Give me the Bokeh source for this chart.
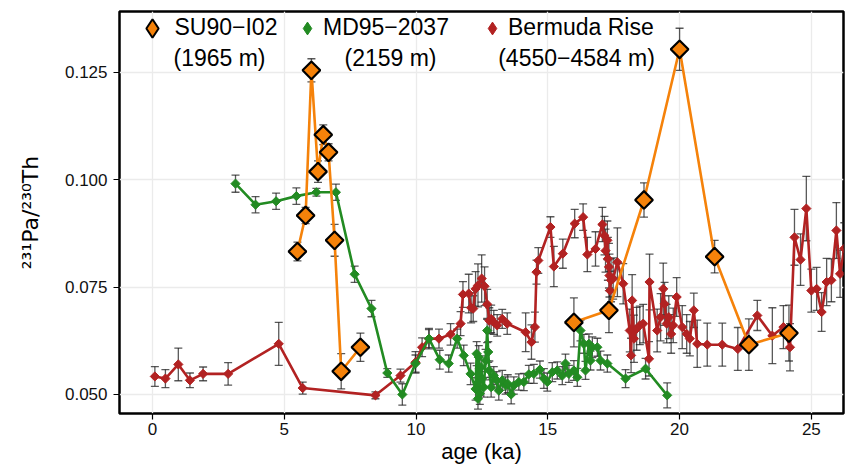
import numpy as np
from bokeh.plotting import figure
from bokeh.models import (ColumnDataSource, Whisker, TeeHead, Legend, LegendItem,
                          Label, FixedTicker, NumeralTickFormatter, Range1d)
from bokeh.embed import file_html
from bokeh.resources import INLINE

# ---------------- data ----------------
# SU90-I02 (1965 m)
su_age = [5.50, 5.81, 6.03, 6.28, 6.48, 6.68, 6.91, 7.16, 7.89,
          15.99, 17.32, 18.65, 20.00, 21.33, 22.63, 24.15]
su_val = [0.0833, 0.0917, 0.1255, 0.1019, 0.1105, 0.1064, 0.0859, 0.0554, 0.0610,
          0.0668, 0.0696, 0.0953, 0.1304, 0.0821, 0.0616, 0.0643]
su_err = [0.0022, 0.0019, 0.0027, 0.0025, 0.0023, 0.0020, 0.0037, 0.0041, 0.0033,
          0.0057, 0.0052, 0.0040, 0.0049, 0.0038, 0.0060, 0.0065]
su_segment = [0, 0, 0, 0, 0, 0, 0, 0, 0, 1, 1, 1, 1, 1, 1, 1]

# MD95-2037 (2159 m)
md_age = [3.15, 3.91, 4.69, 5.46, 6.22, 6.96, 7.67, 8.31, 8.91, 9.48,
          9.98, 10.49, 10.90, 11.24, 11.56, 11.81, 12.07, 12.26, 12.30, 12.35,
          12.38, 12.42, 12.47, 12.51, 12.57, 12.64, 12.70, 12.74, 12.78, 12.85,
          12.95, 13.06, 13.14, 13.27, 13.40, 13.48, 13.61, 13.71, 13.90, 14.09,
          14.28, 14.47, 14.70, 14.85, 14.98, 15.17, 15.36, 15.55, 15.67, 15.80,
          15.99, 16.12, 16.24, 16.37, 16.43, 16.56, 16.62, 16.69, 16.88, 17.00,
          17.26, 17.95, 18.71, 19.53]
md_val = [0.0991, 0.0942, 0.0950, 0.0962, 0.0971, 0.0971, 0.0780, 0.0700, 0.0550, 0.0500,
          0.0572, 0.0630, 0.0581, 0.0572, 0.0630, 0.0591, 0.0548, 0.0513, 0.0595, 0.0490,
          0.0587, 0.0502, 0.0564, 0.0537, 0.0517, 0.0579, 0.0649, 0.0599, 0.0556, 0.0517,
          0.0544, 0.0533, 0.0509, 0.0533, 0.0521, 0.0525, 0.0500, 0.0521, 0.0529, 0.0529,
          0.0547, 0.0548, 0.0558, 0.0537, 0.0529, 0.0552, 0.0556, 0.0544, 0.0572, 0.0548,
          0.0556, 0.0540, 0.0649, 0.0618, 0.0556, 0.0618, 0.0579, 0.0610, 0.0610, 0.0579,
          0.0572, 0.0537, 0.0560, 0.0498]
md_err = [0.0020, 0.0019, 0.0019, 0.0019, 0.0009, 0.0019, 0.0019, 0.0019, 0.0010, 0.0025,
          0.0020, 0.0021, 0.0022, 0.0020, 0.0022, 0.0024, 0.0025, 0.0026, 0.0028, 0.0024,
          0.0027, 0.0025, 0.0026, 0.0024, 0.0023, 0.0026, 0.0028, 0.0024, 0.0022, 0.0023,
          0.0021, 0.0020, 0.0022, 0.0023, 0.0020, 0.0021, 0.0022, 0.0020, 0.0019, 0.0020,
          0.0021, 0.0022, 0.0020, 0.0023, 0.0021, 0.0022, 0.0020, 0.0021, 0.0022, 0.0020,
          0.0023, 0.0021, 0.0024, 0.0022, 0.0021, 0.0023, 0.0022, 0.0024, 0.0021, 0.0022,
          0.0020, 0.0021, 0.0024, 0.0029]

# Bermuda Rise (4550-4584 m)
br_age = [0.09, 0.49, 0.98, 1.42, 1.92, 2.87, 4.79, 5.70, 8.46, 9.41,
          9.98, 10.23, 10.49, 10.87, 11.31, 11.69, 11.78, 12.00, 12.09, 12.17,
          12.26, 12.35, 12.49, 12.60, 12.70, 12.78, 12.85, 12.95, 13.08, 13.27,
          13.46, 14.16, 14.38, 14.51, 14.57, 14.64, 15.10, 15.23, 15.57, 16.02,
          16.34, 16.50, 16.81, 17.07, 17.15, 17.19, 17.26, 17.28, 17.32, 17.34,
          17.36, 17.40, 17.48, 17.64, 17.86, 18.11, 18.16, 18.20, 18.27, 18.37,
          18.49, 18.62, 18.84, 18.86, 19.15, 19.28, 19.38, 19.43, 19.51, 19.59,
          19.68, 19.76, 19.89, 20.10, 20.27, 20.39, 20.54, 20.67, 21.05, 21.62,
          22.21, 22.95, 23.52, 23.94, 24.19, 24.36, 24.59, 24.81, 25.00, 25.20,
          25.39, 25.58, 25.76, 25.95, 26.09, 26.25]
br_val = [0.0542, 0.0537, 0.0570, 0.0533, 0.0548, 0.0548, 0.0618, 0.0515, 0.0498, 0.0544,
          0.0575, 0.0610, 0.0630, 0.0630, 0.0640, 0.0665, 0.0733, 0.0735, 0.0702, 0.0700,
          0.0746, 0.0754, 0.0770, 0.0752, 0.0710, 0.0672, 0.0676, 0.0668, 0.0661, 0.0676,
          0.0665, 0.0645, 0.0622, 0.0657, 0.0785, 0.0812, 0.0890, 0.0798, 0.0828, 0.0898,
          0.0913, 0.0826, 0.0839, 0.0896, 0.0870, 0.0835, 0.0859, 0.0816, 0.0797, 0.0777,
          0.0742, 0.0766, 0.0770, 0.0808, 0.0758, 0.0649, 0.0591, 0.0719, 0.0630, 0.0653,
          0.0661, 0.0665, 0.0583, 0.0762, 0.0649, 0.0680, 0.0746, 0.0711, 0.0665, 0.0680,
          0.0641, 0.0661, 0.0727, 0.0657, 0.0641, 0.0630, 0.0696, 0.0618, 0.0616, 0.0616,
          0.0606, 0.0684, 0.0637, 0.0657, 0.0610, 0.0866, 0.0814, 0.0933, 0.0742, 0.0746,
          0.0692, 0.0762, 0.0766, 0.0882, 0.0781, 0.0840]
br_err = [0.0023, 0.0021, 0.0038, 0.0017, 0.0016, 0.0026, 0.0050, 0.0014, 0.0008, 0.0015,
          0.0025, 0.0022, 0.0024, 0.0022, 0.0025, 0.0028, 0.0030, 0.0045, 0.0035, 0.0030,
          0.0040, 0.0050, 0.0055, 0.0045, 0.0035, 0.0030, 0.0032, 0.0028, 0.0025, 0.0022,
          0.0025, 0.0045, 0.0040, 0.0035, 0.0028, 0.0030, 0.0024, 0.0047, 0.0034, 0.0033,
          0.0031, 0.0040, 0.0040, 0.0040, 0.0045, 0.0050, 0.0045, 0.0050, 0.0055, 0.0050,
          0.0045, 0.0050, 0.0048, 0.0080, 0.0047, 0.0050, 0.0040, 0.0060, 0.0055, 0.0050,
          0.0045, 0.0045, 0.0040, 0.0065, 0.0050, 0.0055, 0.0060, 0.0050, 0.0045, 0.0050,
          0.0045, 0.0040, 0.0045, 0.0050, 0.0045, 0.0040, 0.0040, 0.0055, 0.0050, 0.0050,
          0.0050, 0.0035, 0.0065, 0.0050, 0.0055, 0.0065, 0.0060, 0.0075, 0.0050, 0.0050,
          0.0045, 0.0055, 0.0050, 0.0065, 0.0055, 0.0060]

x_ticks = [0, 5, 10, 15, 20, 25]
y_ticks = [0.050, 0.075, 0.100, 0.125]

legend_names = ["SU90\u2212I02", "MD95\u22122037", "Bermuda Rise"]
legend_depths = ["(1965 m)", "(2159 m)", "(4550\u22124584 m)"]

C_SU = "#F5820A"
C_MD = "#228B22"
C_BR = "#B22222"
FONT = "Liberation Sans"

# ---------------- figure ----------------
p = figure(width=845, height=469, output_backend="svg", toolbar_location=None,
           x_range=Range1d(-1.252, 26.22), y_range=Range1d(0.04557, 0.1392),
           min_border_left=119, min_border_right=2, min_border_top=11,
           min_border_bottom=56, background_fill_color="white",
           border_fill_color="white")

p.outline_line_color = "black"
p.outline_line_width = 2.5

p.xaxis.ticker = FixedTicker(ticks=x_ticks)
p.yaxis.ticker = FixedTicker(ticks=y_ticks)
p.yaxis.formatter = NumeralTickFormatter(format="0.000")
for ax in (p.xaxis[0], p.yaxis[0]):
    ax.axis_line_color = None
    ax.major_tick_line_color = "black"
    ax.major_tick_line_width = 1.2
    ax.major_tick_out = 6
    ax.major_tick_in = 0
    ax.minor_tick_line_color = None
    ax.major_label_text_font = FONT
    ax.major_label_text_font_size = "17px"
    ax.major_label_text_color = "#111111"
    ax.axis_label_text_font = FONT
    ax.axis_label_text_font_style = "normal"
    ax.axis_label_text_font_size = "22px"
    ax.axis_label_text_color = "black"
p.xaxis.axis_label = "age (ka)"
p.yaxis.axis_label = "\u00b2\u00b3\u00b9Pa/\u00b2\u00b3\u2070Th"
p.yaxis.axis_label_text_font = "DejaVu Sans"
p.yaxis.axis_label_text_font_size = "22px"
p.xaxis.major_label_standoff = 3
p.xaxis.axis_label_standoff = 1
p.yaxis.major_label_standoff = 6
p.yaxis.axis_label_standoff = 19

p.xgrid.grid_line_color = "#EBEBEB"
p.ygrid.grid_line_color = "#EBEBEB"
p.xgrid.grid_line_width = 1.3
p.ygrid.grid_line_width = 1.3


def add_errors(age, val, err):
    src = ColumnDataSource(dict(x=age,
                                lo=[v - e for v, e in zip(val, err)],
                                hi=[v + e for v, e in zip(val, err)]))
    w = Whisker(source=src, base="x", lower="lo", upper="hi", dimension="height",
                line_color="#222222", line_alpha=0.75, line_width=1.3,
                upper_head=TeeHead(size=8, line_color="#222222", line_alpha=0.75, line_width=1.3),
                lower_head=TeeHead(size=8, line_color="#222222", line_alpha=0.75, line_width=1.3))
    p.add_layout(w)


# Bermuda Rise
add_errors(br_age, br_val, br_err)
p.line(br_age, br_val, line_color=C_BR, line_width=2.6)
p.scatter(br_age, br_val, marker="square", angle=np.pi / 4, size=6.5,
          fill_color=C_BR, line_color=C_BR)

# MD95-2037
add_errors(md_age, md_val, md_err)
p.line(md_age, md_val, line_color=C_MD, line_width=2.6)
p.scatter(md_age, md_val, marker="square", angle=np.pi / 4, size=6.5,
          fill_color=C_MD, line_color=C_MD)

# SU90-I02
add_errors(su_age, su_val, su_err)
for seg in sorted(set(su_segment)):
    xs = [a for a, s in zip(su_age, su_segment) if s == seg]
    ys = [v for v, s in zip(su_val, su_segment) if s == seg]
    p.line(xs, ys, line_color=C_SU, line_width=2.6)
p.scatter(su_age, su_val, marker="square", angle=np.pi / 4, size=12.5,
          fill_color=C_SU, line_color="black", line_width=2.2)

# legend key glyphs (renderers holding only a missing value: nothing is drawn
# in the plot, they only supply the legend swatches)
nan = [float("nan")]
k_su = p.scatter(nan, nan, marker="diamond", size=19, fill_color=C_SU,
                 line_color="black", line_width=2.0)
k_md = p.scatter(nan, nan, marker="diamond", size=13, fill_color=C_MD, line_color=C_MD)
k_br = p.scatter(nan, nan, marker="diamond", size=13, fill_color=C_BR, line_color=C_BR)

# ---------------- legend ----------------
# (frame-relative x of swatch box, y of box bottom, swatch box size, standoff)
leg_cfg = [(9.5, 362.5, 46, -10), (172, 369.5, 32, -3), (357, 369.5, 32, -3)]
for name, rend, (lx, ly, gs, so) in zip(legend_names, [k_su, k_md, k_br], leg_cfg):
    lg = Legend(items=[LegendItem(label=name, renderers=[rend], index=0)],
                location=(lx, ly), orientation="horizontal",
                padding=0, margin=0, spacing=0,
                glyph_width=gs, glyph_height=gs, label_standoff=so,
                border_line_color=None, background_fill_alpha=0,
                label_text_font=FONT, label_text_font_size="23px",
                label_text_color="black")
    p.add_layout(lg)

depth_x = [100, 271, 457]
for txt, dx in zip(legend_depths, depth_x):
    p.add_layout(Label(x=dx, y=356, x_units="screen", y_units="screen", text=txt,
                       text_align="center", text_baseline="middle",
                       text_font=FONT, text_font_size="23px", text_color="black"))

open("out.html", "w").write(file_html(p, INLINE))
